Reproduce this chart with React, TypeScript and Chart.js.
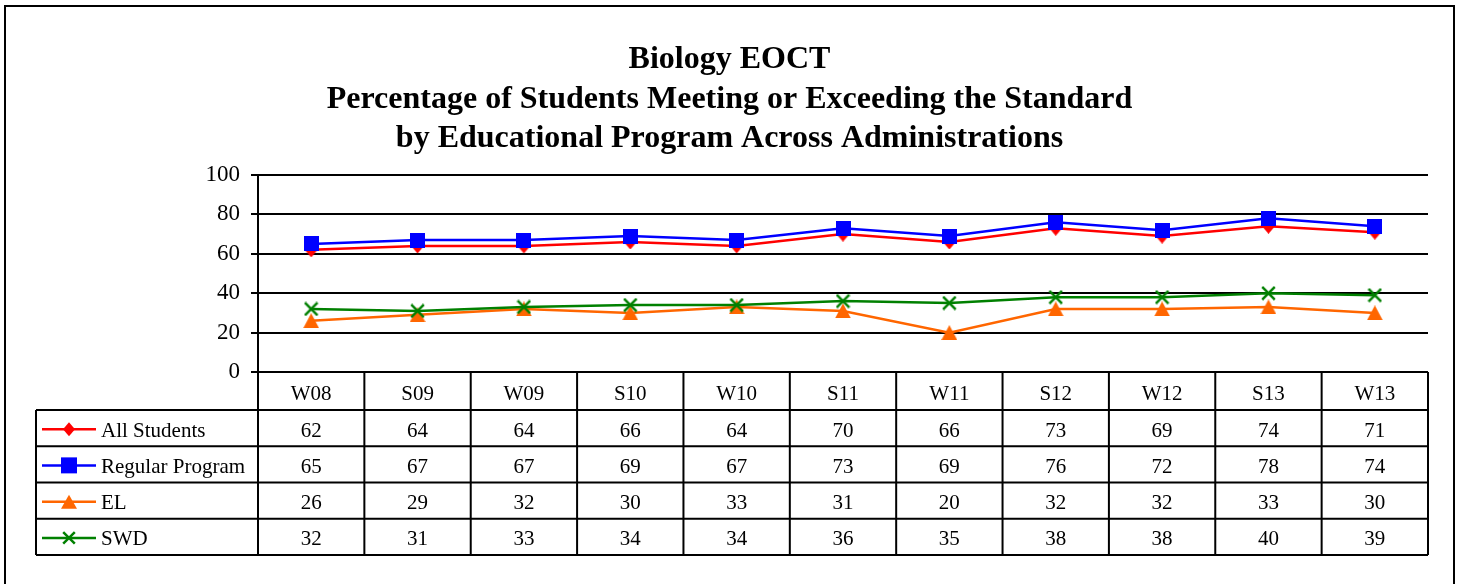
import React, { useEffect, useRef } from "react";
import { Chart, registerables } from "chart.js";

Chart.register(...registerables);

const titleLines = [
  "Biology EOCT",
  "Percentage of Students Meeting or Exceeding the Standard",
  "by Educational Program Across Administrations",
];
const categories = ["W08", "S09", "W09", "S10", "W10", "S11", "W11", "S12", "W12", "S13", "W13"];
const allStudents = [62, 64, 64, 66, 64, 70, 66, 73, 69, 74, 71];
const regularProgram = [65, 67, 67, 69, 67, 73, 69, 76, 72, 78, 74];
const elValues = [26, 29, 32, 30, 33, 31, 20, 32, 32, 33, 30];
const swdValues = [32, 31, 33, 34, 34, 36, 35, 38, 38, 40, 39];
const seriesNames = ["All Students", "Regular Program", "EL", "SWD"];
const seriesColors = ["#FF0000", "#0000FF", "#FF6600", "#008000"];
const seriesStyles = ["diamond", "square", "triangle", "cross"];
const yTicks = [0, 20, 40, 60, 80, 100];

const FONT = '"Liberation Serif", "Times New Roman", serif';

// draws a marker shape with its centre at (x, y); w/h are full width/height
function drawMarker(ctx: CanvasRenderingContext2D, style: string, x: number, y: number, w: number, h: number, color: string) {
  ctx.save();
  ctx.fillStyle = color;
  ctx.strokeStyle = color;
  ctx.beginPath();
  if (style === "diamond") {
    ctx.moveTo(x - w / 2, y);
    ctx.lineTo(x, y - h / 2);
    ctx.lineTo(x + w / 2, y);
    ctx.lineTo(x, y + h / 2);
    ctx.closePath();
    ctx.fill();
  } else if (style === "square") {
    ctx.rect(x - w / 2, y - h / 2, w, h);
    ctx.fill();
  } else if (style === "triangle") {
    ctx.moveTo(x, y - h / 2);
    ctx.lineTo(x + w / 2, y + h / 2);
    ctx.lineTo(x - w / 2, y + h / 2);
    ctx.closePath();
    ctx.fill();
  } else {
    ctx.lineWidth = 2.5;
    const hw = w / 2 - 1.2;
    const hh = h / 2 - 1.2;
    ctx.moveTo(x - hw, y - hh);
    ctx.lineTo(x + hw, y + hh);
    ctx.moveTo(x + hw, y - hh);
    ctx.lineTo(x - hw, y + hh);
    ctx.stroke();
  }
  ctx.restore();
}

const plotMarkerSizes = [
  [13, 15],
  [15, 15],
  [16, 15],
  [15, 15],
];
const legendMarkerSizes = [
  [12, 14],
  [16, 16],
  [16, 14],
  [14, 14],
];

function makeMarkerCanvas(style: string, w: number, h: number, color: string) {
  const c = document.createElement("canvas");
  c.width = w;
  c.height = h;
  const ctx = c.getContext("2d")!;
  drawMarker(ctx, style, w / 2, h / 2, w, h, color);
  return c;
}

const decorPlugin = {
  id: "decor",
  afterDraw(chart: any) {
    const ctx: CanvasRenderingContext2D = chart.ctx;
    const area = chart.chartArea;
    const xs = chart.scales.x;
    const left = area.left;
    const right = area.right;
    const base = area.bottom;
    const tableLeft = 36;
    const catBottom = 410;
    const rowH = 36.25;
    const tableBottom = catBottom + rowH * 4;
    const colW = (right - left) / categories.length;

    ctx.save();
    // outer border
    ctx.strokeStyle = "#000";
    ctx.lineWidth = 2;
    ctx.strokeRect(5, 6, 1449, 600);

    // title
    ctx.fillStyle = "#000";
    ctx.font = `bold 32px ${FONT}`;
    ctx.textAlign = "center";
    ctx.textBaseline = "alphabetic";
    titleLines.forEach((t, i) => ctx.fillText(t, 729.5, 68 + i * 39.5));

    // table lines
    ctx.strokeStyle = "#000";
    ctx.lineWidth = 2;
    ctx.beginPath();
    for (let i = 0; i <= categories.length; i++) {
      const x = left + i * colW;
      ctx.moveTo(x, base);
      ctx.lineTo(x, tableBottom);
    }
    ctx.moveTo(left, base);
    ctx.lineTo(right, base);
    for (let r = 0; r <= 4; r++) {
      const y = catBottom + r * rowH;
      ctx.moveTo(tableLeft, y);
      ctx.lineTo(right, y);
    }
    ctx.moveTo(tableLeft, catBottom);
    ctx.lineTo(tableLeft, tableBottom);
    ctx.stroke();

    // category labels
    ctx.font = `21px ${FONT}`;
    ctx.textAlign = "center";
    ctx.textBaseline = "alphabetic";
    categories.forEach((c, i) => {
      ctx.fillText(c, xs.getPixelForValue(i), (base + catBottom) / 2 + 8.5);
    });

    // rows
    const seriesData = [allStudents, regularProgram, elValues, swdValues];
    seriesData.forEach((vals, r) => {
      const mid = catBottom + r * rowH + rowH / 2;
      const by = mid + 8.5;
      ctx.fillStyle = "#000";
      ctx.textAlign = "center";
      vals.forEach((v, i) => ctx.fillText(String(v), xs.getPixelForValue(i), by));
      // legend sample
      ctx.save();
      ctx.strokeStyle = seriesColors[r];
      ctx.lineWidth = 2.5;
      ctx.beginPath();
      ctx.moveTo(42, mid + 1);
      ctx.lineTo(96, mid + 1);
      ctx.stroke();
      ctx.restore();
      const [mw, mh] = legendMarkerSizes[r];
      drawMarker(ctx, seriesStyles[r], 69, mid + 1, mw, mh, seriesColors[r]);
      ctx.fillStyle = "#000";
      ctx.textAlign = "left";
      ctx.fillText(seriesNames[r], 101, by);
    });
    ctx.restore();
  },
};

export default function App() {
  const ref = useRef<HTMLCanvasElement>(null);
  useEffect(() => {
    if (!ref.current) return;
    const seriesData = [allStudents, regularProgram, elValues, swdValues];
    const markers = seriesStyles.map((s, i) =>
      makeMarkerCanvas(s, plotMarkerSizes[i][0], plotMarkerSizes[i][1], seriesColors[i])
    );
    const chart = new Chart(ref.current, {
      type: "line",
      data: {
        labels: categories,
        datasets: seriesData.map((d, i) => ({
          label: seriesNames[i],
          data: d,
          borderColor: seriesColors[i],
          backgroundColor: seriesColors[i],
          borderWidth: 2.5,
          pointStyle: markers[i] as any,
          pointRadius: 8,
          tension: 0,
          order: 4 - i,
        })),
      },
      options: {
        responsive: false,
        animation: false,
        devicePixelRatio: 1,
        layout: { padding: { left: 0, top: 175, right: 34, bottom: 212 } },
        plugins: { legend: { display: false }, tooltip: { enabled: false }, title: { display: false } },
        scales: {
          x: { type: "category", display: false, offset: true },
          y: {
            min: 0,
            max: 100,
            afterFit: (scale: any) => {
              scale.width = 258;
            },
            afterBuildTicks: (scale: any) => {
              scale.ticks = yTicks.map((v) => ({ value: v }));
            },
            ticks: { color: "#000", padding: 11, font: { family: FONT, size: 23 } },
            grid: { color: "#000", lineWidth: 2, tickLength: 7, drawTicks: true },
            border: { display: true, color: "#000", width: 2 },
          },
        },
      },
      plugins: [decorPlugin],
    });
    return () => chart.destroy();
  }, []);
  return (
    <div style={{ position: "absolute", left: 0, top: 0, width: 1462, height: 584, background: "#fff" }}>
      <canvas ref={ref} width={1462} height={584} style={{ display: "block", width: 1462, height: 584 }} />
    </div>
  );
}
